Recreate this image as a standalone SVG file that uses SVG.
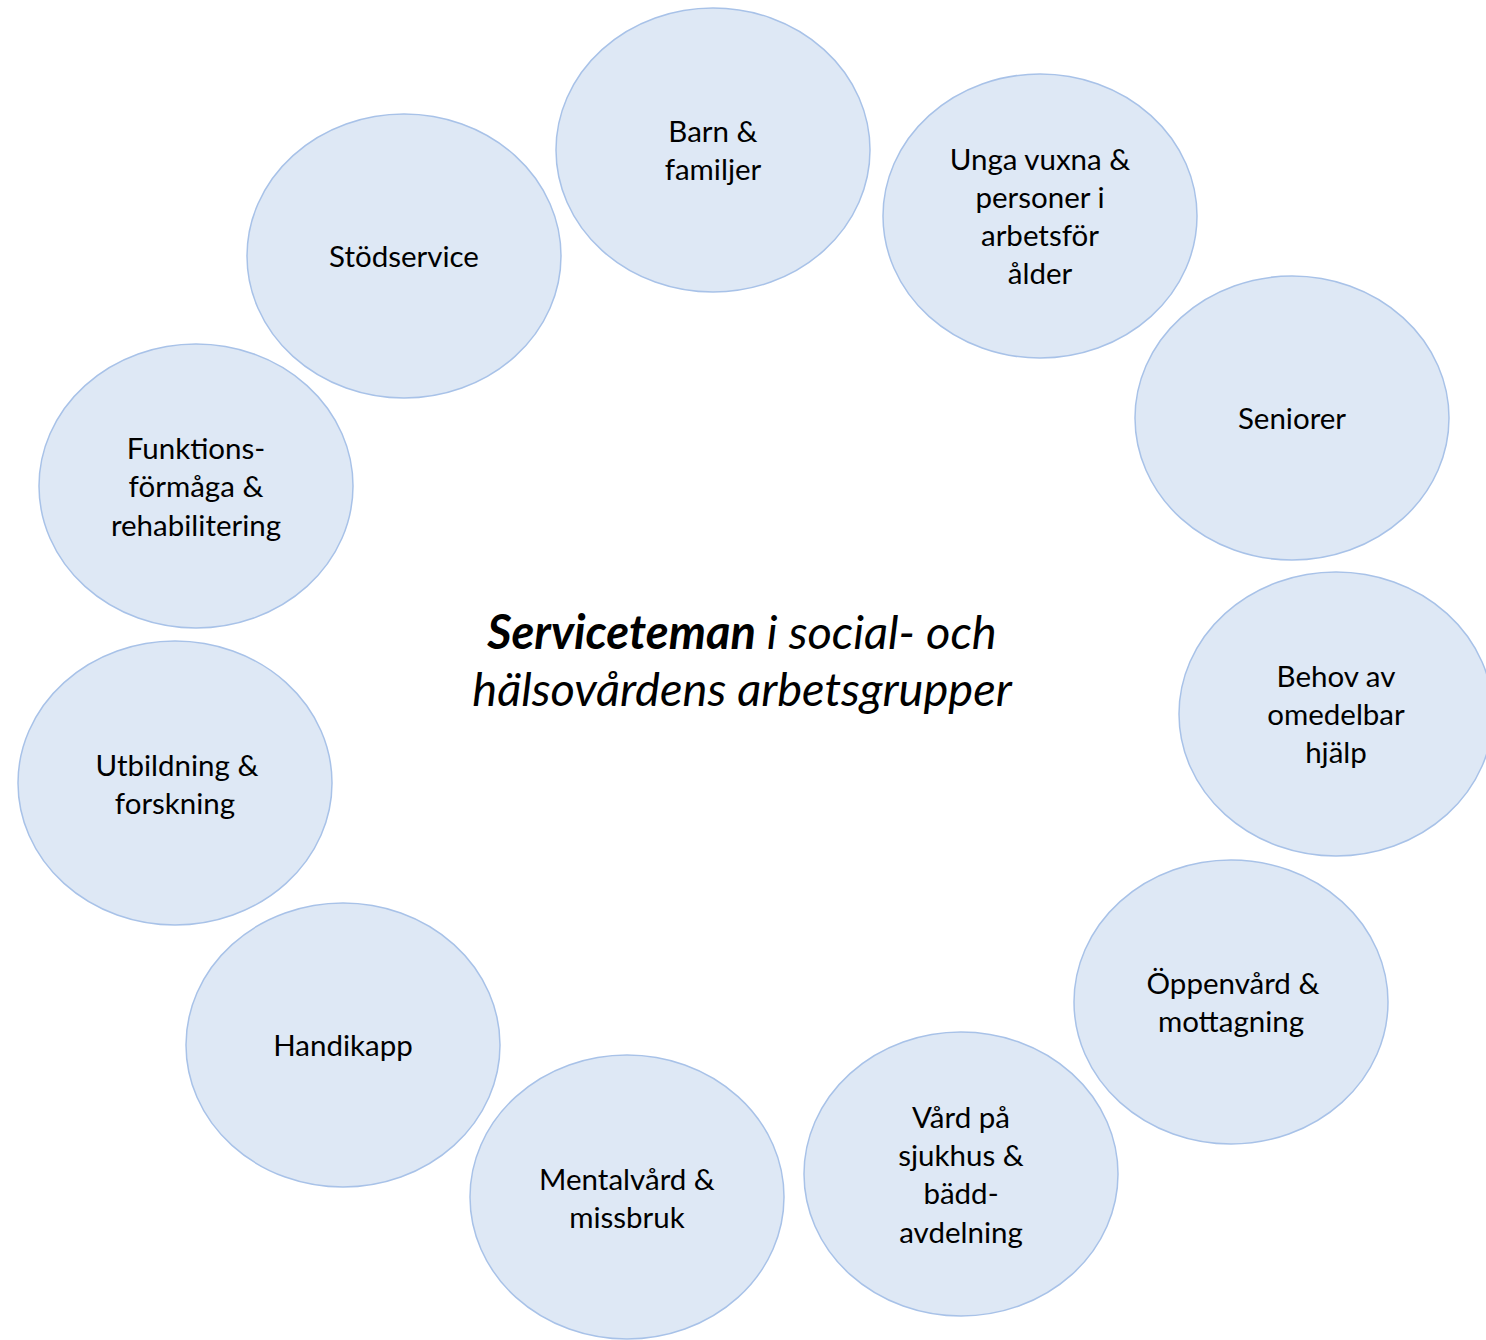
<svg xmlns="http://www.w3.org/2000/svg" width="1486" height="1340" viewBox="0 0 1486 1340">
<style>
.n{fill:#DEE8F5;stroke:#A8C2E8;stroke-width:1.5}
.t{font-family:Lato,"Open Sans","Liberation Sans",sans-serif;font-size:29.5px;fill:#000;text-anchor:middle}
.c{font-family:Lato,"Open Sans","Liberation Sans",sans-serif;font-size:47px;font-style:italic;fill:#000;text-anchor:middle}
</style>
<rect width="1486" height="1340" fill="#fff"/>
<g id="connectors"></g>
<g id="n-barn"><ellipse class="n" cx="713" cy="150" rx="157" ry="142"/><text class="t" x="713" y="142">Barn &amp;</text><text class="t" x="713" y="180">familjer</text></g>
<g id="n-unga"><ellipse class="n" cx="1040" cy="216" rx="157" ry="142"/><text class="t" x="1040" y="170">Unga vuxna &amp;</text><text class="t" x="1040" y="208">personer i</text><text class="t" x="1040" y="246">arbetsför</text><text class="t" x="1040" y="284">ålder</text></g>
<g id="n-stod"><ellipse class="n" cx="404" cy="256" rx="157" ry="142"/><text class="t" x="404" y="267">Stödservice</text></g>
<g id="n-seniorer"><ellipse class="n" cx="1292" cy="418" rx="157" ry="142"/><text class="t" x="1292" y="429">Seniorer</text></g>
<g id="n-funktion"><ellipse class="n" cx="196" cy="486" rx="157" ry="142"/><text class="t" x="196" y="459">Funktions-</text><text class="t" x="196" y="497">förmåga &amp;</text><text class="t" x="196" y="536">rehabilitering</text></g>
<g id="n-behov"><ellipse class="n" cx="1336" cy="714" rx="157" ry="142"/><text class="t" x="1336" y="687">Behov av</text><text class="t" x="1336" y="725">omedelbar</text><text class="t" x="1336" y="763">hjälp</text></g>
<g id="n-utbildning"><ellipse class="n" cx="175" cy="783" rx="157" ry="142"/><text class="t" x="177" y="776">Utbildning &amp;</text><text class="t" x="175" y="814">forskning</text></g>
<g id="n-oppenvard"><ellipse class="n" cx="1231" cy="1002" rx="157" ry="142"/><text class="t" x="1233" y="994">Öppenvård &amp;</text><text class="t" x="1231" y="1032">mottagning</text></g>
<g id="n-handikapp"><ellipse class="n" cx="343" cy="1045" rx="157" ry="142"/><text class="t" x="343" y="1056">Handikapp</text></g>
<g id="n-vard"><ellipse class="n" cx="961" cy="1174" rx="157" ry="142"/><text class="t" x="961" y="1128">Vård på</text><text class="t" x="961" y="1166">sjukhus &amp;</text><text class="t" x="961" y="1204">bädd-</text><text class="t" x="961" y="1243">avdelning</text></g>
<g id="n-mental"><ellipse class="n" cx="627" cy="1197" rx="157" ry="142"/><text class="t" x="627" y="1190">Mentalvård &amp;</text><text class="t" x="627" y="1228">missbruk</text></g>
<g id="title"><text class="c" x="742" y="649"><tspan font-weight="bold">Serviceteman</tspan> i social- och</text><text class="c" x="742" y="706">hälsovårdens arbetsgrupper</text></g>
</svg>
